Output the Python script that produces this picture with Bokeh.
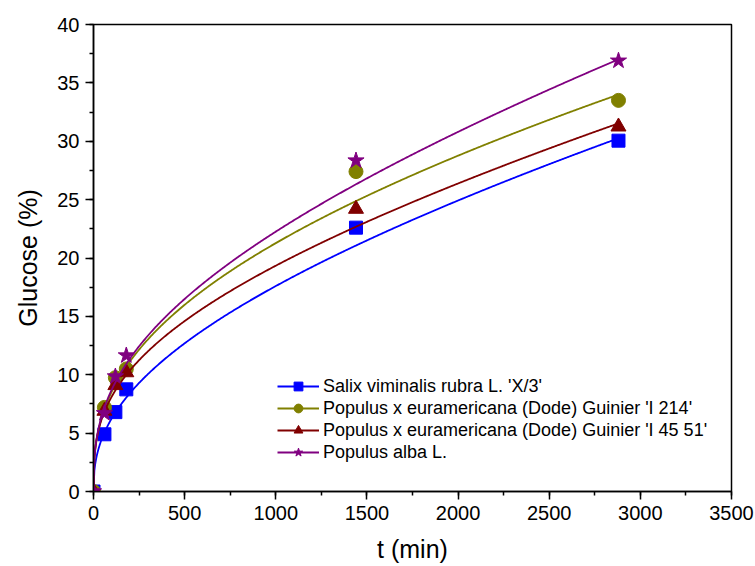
from bokeh.plotting import figure
from bokeh.models import Range1d, SingleIntervalTicker, Legend, LegendItem
from bokeh.embed import file_html
from bokeh.resources import INLINE
import numpy as np

t_min = [0, 60, 120, 180, 1440, 2880]
salix = [0, 4.9, 6.8, 8.75, 22.6, 30.05]
pop_214 = [0, 7.2, 9.75, 10.5, 27.4, 33.5]
pop_4551 = [0, 6.9, 9.1, 10.2, 24.2, 31.25]
pop_alba = [0, 6.7, 9.85, 11.65, 28.35, 36.9]

# Points on the fitted curves
t_curve = [60, 120, 180, 480, 1440, 2010, 2880]
salix_curve = [4.9, 6.9, 8.5, 11.8, 21.2, 25.3, 30.05]
pop_214_curve = [7.2, 9.6, 10.8, 14.4, 25.6, 29.3, 33.5]
pop_4551_curve = [6.9, 9.0, 10.1, 13.4, 23.3, 26.6, 31.25]
pop_alba_curve = [6.8, 9.8, 11.4, 15.4, 26.7, 30.9, 36.9]

names = ["Salix viminalis rubra L. 'X/3'",
         "Populus x euramericana (Dode) Guinier 'I 214'",
         "Populus x euramericana (Dode) Guinier 'I 45 51'",
         "Populus alba L."]
series = [salix, pop_214, pop_4551, pop_alba]
curves = [salix_curve, pop_214_curve, pop_4551_curve, pop_alba_curve]
colors = ["#0000FF", "#808000", "#800000", "#800080"]
markers = ["square", "circle", "triangle", "star"]
sizes = [13, 14, 15, 17]
legend_sizes = [10, 11, 12, 13]

FONT = "Liberation Sans"


def smooth_curve(ts, ys):
    """Least-squares smooth y = a*t^b + c*t through the read curve points."""
    t = np.array(ts, float)
    y = np.array(ys, float)
    best = None
    for b in np.arange(0.15, 0.95, 0.005):
        A = np.column_stack([t ** b, t])
        coef, *_ = np.linalg.lstsq(A, y, rcond=None)
        err = np.sum((A @ coef - y) ** 2)
        if best is None or err < best[0]:
            best = (err, b, coef)
    _, b, (a, c) = best
    tt = np.linspace(0, t.max(), 600)
    return tt, a * tt ** b + c * tt


p = figure(width=755, height=566, output_backend="svg", toolbar_location=None,
           x_range=Range1d(0, 3500), y_range=Range1d(0, 40),
           min_border_left=93, min_border_right=24, min_border_top=24,
           min_border_bottom=75)
p.grid.visible = False
p.outline_line_color = "black"
p.outline_line_width = 1.5
p.background_fill_color = "white"
p.border_fill_color = "white"

p.xaxis.ticker = SingleIntervalTicker(interval=500, num_minor_ticks=2)
p.yaxis.ticker = SingleIntervalTicker(interval=5, num_minor_ticks=2)
for ax in (p.xaxis, p.yaxis):
    ax.major_tick_out = 8
    ax.major_tick_in = 0
    ax.minor_tick_out = 4
    ax.minor_tick_in = 0
    ax.axis_line_width = 1.5
    ax.major_tick_line_width = 1.5
    ax.minor_tick_line_width = 1.5
    ax.major_label_text_font = FONT
    ax.major_label_text_font_size = "20px"
    ax.major_label_text_color = "black"
    ax.axis_label_text_font = FONT
    ax.axis_label_text_font_size = "25px"
    ax.axis_label_text_font_style = "normal"
    ax.axis_label_text_color = "black"
p.xaxis.axis_label = "t (min)"
p.yaxis.axis_label = "Glucose (%)"
p.xaxis.axis_label_standoff = 12
p.yaxis.axis_label_standoff = 12
p.yaxis.major_label_standoff = 6
p.xaxis.major_label_standoff = 6

items = []
for name, ys, cy, c, m, s, ls in zip(names, series, curves, colors, markers, sizes, legend_sizes):
    tt, yy = smooth_curve(t_curve, cy)
    p.line(tt, yy, line_color=c, line_width=1.8)
    p.scatter(t_min, ys, marker=m, size=s, fill_color=c, line_color=c)
    lr = p.line(x=[np.nan], y=[np.nan], line_color=c, line_width=1.8)
    sr = p.scatter(x=[np.nan], y=[np.nan], marker=m, size=ls, fill_color=c, line_color=c)
    items.append(LegendItem(label=name, renderers=[lr, sr]))

legend = Legend(items=items, location=(184, 28), padding=0, margin=0,
                glyph_width=42, glyph_height=22, spacing=0, label_standoff=4,
                label_height=22, label_text_color="black",
                label_text_font=FONT, label_text_font_size="18px",
                border_line_color=None, background_fill_alpha=0)
p.add_layout(legend)

open("out.html", "w").write(file_html(p, INLINE))
